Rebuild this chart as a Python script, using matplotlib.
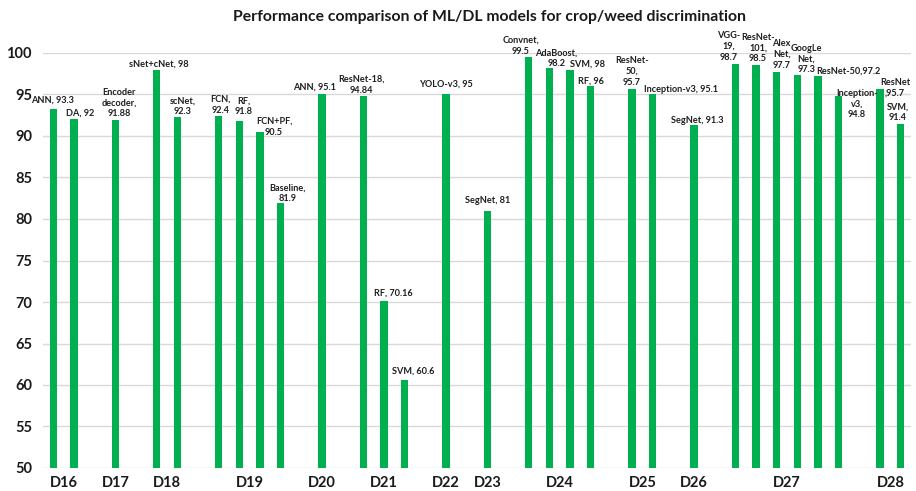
import numpy as np
import matplotlib
matplotlib.use("Agg")
import matplotlib.pyplot as plt

plt.rcParams['font.family'] = ['Lato', 'DejaVu Sans']

# data: one list per dataset group
groups = ['D16', 'D17', 'D18', 'D19', 'D20', 'D21', 'D22', 'D23', 'D24', 'D25', 'D26', 'D27', 'D28']
models = [
    ['ANN', 'DA'],
    ['Encoder\ndecoder'],
    ['sNet+cNet', 'scNet'],
    ['FCN', 'RF', 'FCN+PF', 'Baseline'],
    ['ANN'],
    ['ResNet-18', 'RF', 'SVM'],
    ['YOLO-v3'],
    ['SegNet'],
    ['Convnet', 'AdaBoost', 'SVM', 'RF'],
    ['ResNet-\n50', 'Inception-v3'],
    ['SegNet'],
    ['VGG-\n19', 'ResNet-\n101', 'Alex\nNet', 'GoogLe\nNet', 'ResNet-50', 'Inception-\nv3'],
    ['ResNet', 'SVM'],
]
accuracy = [
    [93.3, 92],
    [91.88],
    [98, 92.3],
    [92.4, 91.8, 90.5, 81.9],
    [95.1],
    [94.84, 70.16, 60.6],
    [95],
    [81],
    [99.5, 98.2, 98, 96],
    [95.7, 95.1],
    [91.3],
    [98.7, 98.5, 97.7, 97.3, 97.2, 94.8],
    [95.7, 91.4],
]
# separator between model name and value in the data labels
seps = [
    [', ', ', '],
    [',\n'],
    [', ', ',\n'],
    [',\n', ',\n', ',\n', ',\n'],
    [', '],
    [',\n', ', ', ', '],
    [', '],
    [', '],
    [',\n', ',\n', ', ', ', '],
    [',\n', ', '],
    [', '],
    [',\n', ',\n', ',\n', ',\n', ',', ',\n'],
    ['\n,', ',\n'],
]

# label offsets in pixels (dx, dy) from top of each bar
offsets = [
    (-1, 4), (6, 2),
    (4, 2),
    (2, 1), (5, 1),
    (2, 1.5), (4, 5), (14, -5), (7, 0),
    (-8, 2),
    (-2, 1), (9, 3.5), (9, 4.5),
    (0, 6),
    (0, 6),
    (-8, 1.5), (7, 0), (17, 1), (0, 0.5),
    (0, 2), (28, 0),
    (3, 0.5),
    (-7, 2), (2, 2), (5, 2.5), (9, 1), (30, 0.5), (18, -23),
    (15, -9), (-3, 2),
]

green = '#00B050'

xs, vals, texts, centers = [], [], [], []
pos = 0
for g, (names, accs, ss) in enumerate(zip(models, accuracy, seps)):
    start = pos
    for n, a, s in zip(names, accs, ss):
        xs.append(pos)
        vals.append(a)
        texts.append(f"{n}{s}{a:g}")
        pos += 1
    centers.append((start + pos - 1) / 2)
    pos += 1  # empty slot between groups

fig = plt.figure(figsize=(9.16, 4.91), dpi=100)
ax = fig.add_axes([43 / 916, 1 - 468 / 491, 868 / 916, 415 / 491])

ax.bar(xs, np.array(vals) - 50, bottom=50, width=0.34, color=green, zorder=3)

for x, v, t, (dx, dy) in zip(xs, vals, texts, offsets):
    ax.annotate(t, (x, v), xytext=(dx, dy), textcoords='offset pixels',
                ha='center', va='bottom', fontsize=6.6, fontweight='bold',
                color='#1f1f1f', linespacing=1.25, zorder=4)

ax.set_xlim(-0.5, pos - 1.5)
ax.set_ylim(50, 100)
ax.set_yticks(np.arange(50, 101, 5))
ax.set_xticks(centers)
ax.set_xticklabels(groups)
ax.yaxis.grid(True, color='#D9D9D9', linewidth=1, zorder=0)
for side in ['top', 'right', 'left', 'bottom']:
    ax.spines[side].set_visible(False)
ax.tick_params(axis='both', length=0, labelsize=10.5, colors='#1a1a1a')
ax.tick_params(axis='y', pad=8)
ax.tick_params(axis='x', pad=6)
for lab in ax.get_xticklabels() + ax.get_yticklabels():
    lab.set_fontweight('bold')

fig.text(0.534, 0.965, 'Performance comparison of ML/DL models for crop/weed discrimination',
         ha='center', va='center', fontsize=11.3, fontweight='bold', color='#1a1a1a')

fig.savefig('out.png', dpi=100)
